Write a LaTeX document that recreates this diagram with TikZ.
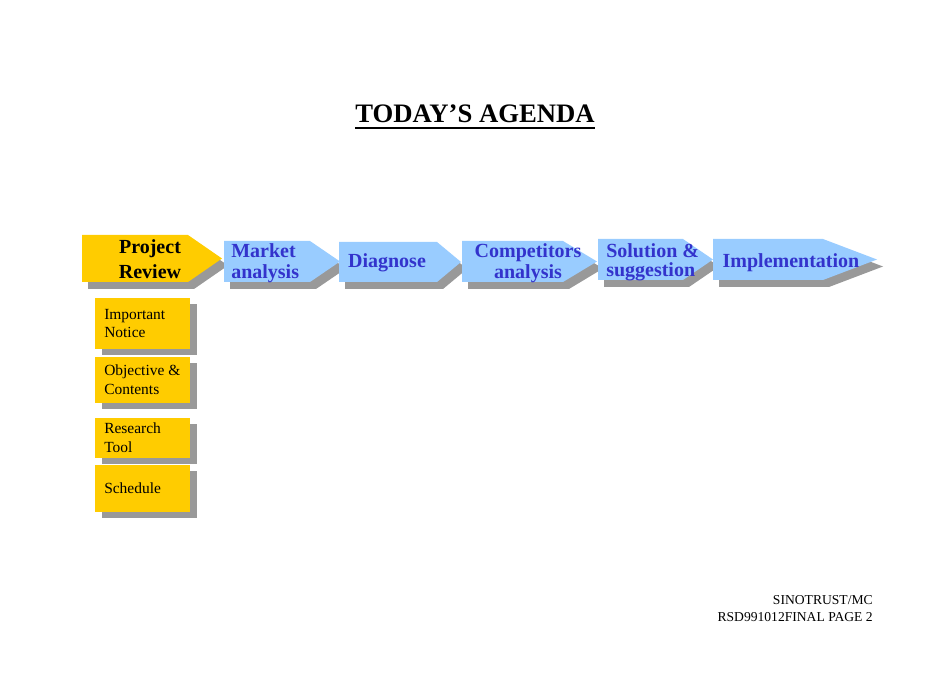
\documentclass[tikz,border=0pt]{standalone}
\usepackage{fontspec}
\setmainfont{Liberation Serif}
\usepackage{xcolor}
\usepackage{tikz}
\definecolor{stepyellow}{HTML}{FFCC00}
\definecolor{stepblue}{HTML}{99CCFF}
\definecolor{steptext}{HTML}{3333CC}
\definecolor{stepshade}{HTML}{999999}

\begin{document}
\begin{tikzpicture}[x=0.75pt,y=-0.75pt,
	steplabel/.style={inner sep=0pt,text=steptext,font=\fontsize{15}{15.5}\selectfont\bfseries},
	boxlabel/.style={inner sep=0pt,anchor=west,align=left,font=\fontsize{11.6}{14}\selectfont}]
	\useasboundingbox (0,0) rectangle (950,673);

	\node[anchor=base,inner sep=0pt] (title) at (475,123) {\fontsize{20}{22}\selectfont\bfseries TODAY’S AGENDA};
	\draw[line width=1pt] ([yshift=-3.8pt]title.base west) -- ([yshift=-3.8pt]title.base east);

	% process arrows, left to right
	\foreach \l/\t/\b/\s/\p/\c in {82/235/282/188/222/stepyellow, 224/241/282/310/340/stepblue, 339/242/282/437/461/stepblue, 462/241/282/563/597/stepblue, 598/239/280/683/713/stepblue, 713/239/280/823/877/stepblue}{
		\fill[stepshade,shift={(6,7)}] (\l,\t) -- (\s,\t) -- (\p,{(\t+\b)/2}) -- (\s,\b) -- (\l,\b) -- cycle;
		\fill[\c] (\l,\t) -- (\s,\t) -- (\p,{(\t+\b)/2}) -- (\s,\b) -- (\l,\b) -- cycle;
	}

	\node[steplabel,text=black,align=center,font=\fontsize{15}{19}\selectfont\bfseries] (review) at (150,259) {Project\\Review};
	\node[steplabel,align=left,anchor=west,font=\fontsize{15}{16}\selectfont\bfseries] (market) at (231,263) {Market\\analysis};
	\node[steplabel] (diagnose) at (387,263) {Diagnose};
	\node[steplabel,align=center] (competitors) at (528,263) {Competitors\\analysis};
	\node[steplabel,align=left,anchor=west,font=\fontsize{15}{14.5}\selectfont\bfseries] (solution) at (606,262) {Solution \&\\suggestion};
	\node[steplabel] (implementation) at (791,263) {Implementation};

	% sub items under the first step
	\foreach \t/\b/\n/\txt in {298/349/notice/{Important\\Notice}, 357/403/objective/{Objective \&\\Contents}, 418/458/tool/{Research\\Tool}, 465/512/schedule/{Schedule}}{
		\fill[stepshade,shift={(7,6)}] (95,\t) rectangle (190,\b);
		\fill[stepyellow] (95,\t) rectangle (190,\b);
		\node[boxlabel] (\n) at (104,{(\t+\b)/2}) {\txt};
	}

	\node[anchor=base east,inner sep=0pt,font=\fontsize{10.2}{12}\selectfont] (firm) at (873,604) {SINOTRUST/MC};
	\node[anchor=base east,inner sep=0pt,font=\fontsize{10.2}{12}\selectfont] (page) at (873,621) {RSD991012FINAL PAGE 2};
\end{tikzpicture}
\end{document}
